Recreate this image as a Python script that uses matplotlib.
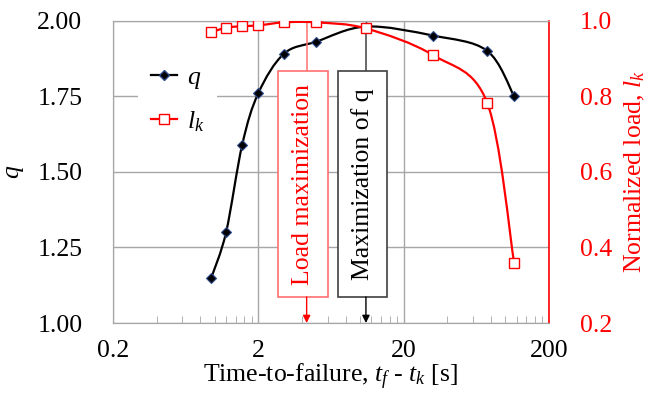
import numpy as np
import matplotlib
matplotlib.use('Agg')
import matplotlib.pyplot as plt
from matplotlib.path import Path
from matplotlib.patches import PathPatch, Rectangle
from matplotlib.lines import Line2D
import matplotlib.ticker as mticker

# ---------------- data ----------------
time_to_failure = [0.95, 1.2, 1.55, 2.0, 3.0, 5.0, 11.0, 32.0, 75.0, 115.0]
q_values = [1.15, 1.30, 1.59, 1.76, 1.89, 1.93, 1.98, 1.95, 1.90, 1.75]
load_values = [0.969, 0.981, 0.985, 0.987, 0.995, 0.995, 0.979, 0.908, 0.783, 0.36]
x_ticks = [0.2, 2, 20, 200]
x_tick_labels = ['0.2', '2', '20', '200']
q_ticks = [1.00, 1.25, 1.50, 1.75, 2.00]
load_ticks = [0.2, 0.4, 0.6, 0.8, 1.0]
load_max_x = 4.3
load_max_value = 0.998

plt.rcParams['font.family'] = ['Liberation Serif', 'DejaVu Serif']
plt.rcParams['mathtext.fontset'] = 'custom'
plt.rcParams['mathtext.rm'] = 'Liberation Serif'
plt.rcParams['mathtext.it'] = 'Liberation Serif:italic'

FS = 18.5
GRID = '#A6A6A6'
RED = '#FF0000'
PINK = '#FF7070'

W, H = 646, 394
fig = plt.figure(figsize=(W / 100, H / 100), dpi=100)
L, R, T, B = 113, 549, 20.5, 323
ax = fig.add_axes([L / W, 1 - B / H, (R - L) / W, (B - T) / H])
ax2 = ax.twinx()


def smooth_path(xs, ys):
    u = np.log10(np.asarray(xs, float))
    v = np.asarray(ys, float)
    P = np.column_stack([u, v])
    n = len(P)
    verts = [P[0]]
    codes = [Path.MOVETO]
    for i in range(n - 1):
        p0 = P[i - 1] if i > 0 else P[i]
        p1, p2 = P[i], P[i + 1]
        p3 = P[i + 2] if i + 2 < n else P[i + 1]
        c1 = p1 + (p2 - p0) / 6.0
        c2 = p2 - (p3 - p1) / 6.0
        verts += [c1, c2, p2]
        codes += [Path.CURVE4] * 3
    verts = np.array(verts)
    verts[:, 0] = 10 ** verts[:, 0]
    return Path(verts, codes)


# axes setup
for a in (ax, ax2):
    a.set_xscale('log')
    a.set_xlim(0.2, 200)
ax.set_ylim(1.0, 2.0)
ax2.set_ylim(0.2, 1.0)

ax.xaxis.set_major_locator(mticker.FixedLocator(x_ticks))
ax.xaxis.set_major_formatter(mticker.FixedFormatter(x_tick_labels))
minor = [0.2 * k * 10 ** n for n in range(3) for k in range(2, 10)]
ax.xaxis.set_minor_locator(mticker.FixedLocator(minor))
ax.xaxis.set_minor_formatter(mticker.NullFormatter())
ax.tick_params(axis='x', which='both', direction='in', length=5, color=GRID,
               labelsize=FS, pad=12)
ax.tick_params(axis='x', which='major', length=0)
ax.set_yticks(q_ticks)
ax.yaxis.set_major_formatter(mticker.FormatStrFormatter('%.2f'))
ax.tick_params(axis='y', length=0, labelsize=FS, pad=22)
ax2.set_yticks(load_ticks)
ax2.yaxis.set_major_formatter(mticker.FormatStrFormatter('%.1f'))
ax2.tick_params(axis='y', length=0, labelsize=FS, pad=22, labelcolor=RED)
ax2.tick_params(axis='x', which='both', length=0)

ax.grid(True, which='major', color=GRID, lw=1)
ax.set_axisbelow(True)
for s in ('left', 'bottom', 'top'):
    ax.spines[s].set_color(GRID)
    ax2.spines[s].set_color(GRID)
ax.spines['right'].set_visible(False)
ax2.spines['right'].set_color(RED)
ax2.spines['right'].set_linewidth(1.2)

ax.set_ylabel('$q$', fontsize=FS, labelpad=8)
ax2.set_ylabel('Normalized load, $l_k$', fontsize=FS, color=RED, labelpad=8)
ax.set_xlabel('Time-to-failure, $t_f$ - $t_k$ [s]', fontsize=FS, labelpad=0)

# curves
ax.add_patch(PathPatch(smooth_path(time_to_failure, q_values), fill=False,
                       ec='black', lw=1.6, zorder=3))
ax.plot(time_to_failure, q_values, ls='none', marker='D', ms=5, mfc='black',
        mec='#2E4A8A', mew=0.8, zorder=4)
ax2.add_patch(PathPatch(smooth_path(time_to_failure, load_values), fill=False,
                        ec=RED, lw=1.6, zorder=3))
ax2.plot(time_to_failure, load_values, ls='none', marker='s', ms=7, mfc='white',
         mec=RED, mew=1.0, zorder=4)

# annotation boxes
box_bottom, box_top = 0.086, 0.833
iq = int(np.argmax(q_values))
q_max_x = time_to_failure[iq]
q_max_frac = (q_values[iq] - 1.0) / 1.0
load_frac = (load_max_value - 0.2) / 0.8
xt = ax2.get_xaxis_transform()


def to_frac(xv):
    return (np.log10(xv) - np.log10(0.2)) / 3.0


boxes = [
    (load_max_x, load_frac, 'Load maximization', PINK, RED, RED, 50),
    (q_max_x, q_max_frac, 'Maximization of q', '#404040', 'black', 'black', 49.7),
]
for xv, yfrac, label, ec, tc, ac, wpx in boxes:
    cx = to_frac(xv) - 3.5 / (R - L)
    wf = wpx / (R - L)
    ax2.add_patch(Rectangle((cx - wf / 2, box_bottom), wf, box_top - box_bottom,
                            transform=ax2.transAxes, fc='white', ec=ec, lw=1.2,
                            zorder=5))
    ax2.text(cx, (box_bottom + box_top) / 2, label, rotation=90, ha='center',
             va='center', fontsize=FS, color=tc, transform=ax2.transAxes,
             zorder=6)
    ax2.plot([xv, xv], [box_top, yfrac], transform=xt, color=ec, lw=1.1,
             zorder=2)
    ax2.annotate('', xy=(xv, 0.0), xytext=(xv, box_bottom), xycoords=xt,
                 textcoords=xt,
                 arrowprops=dict(arrowstyle='-|>', color=ac, lw=1.0,
                                 mutation_scale=11, shrinkA=0, shrinkB=0),
                 zorder=6)

# legend
handles = [
    Line2D([], [], color='black', lw=1.6, marker='D', ms=5, mfc='black',
           mec='#2E4A8A'),
    Line2D([], [], color=RED, lw=1.6, marker='s', ms=7, mfc='white', mec=RED),
]
leg = ax.legend(handles, ['$q$', '$l_k$'], loc='center',
                bbox_to_anchor=(177.5 / W, 1 - 100 / H),
                bbox_transform=fig.transFigure, fontsize=FS, frameon=True,
                fancybox=False, edgecolor='none', facecolor='white',
                framealpha=1, handlelength=1.0, handletextpad=0.4,
                labelspacing=0.7, borderpad=0.5)
leg.set_zorder(10)

fig.savefig('out.png', dpi=100)
